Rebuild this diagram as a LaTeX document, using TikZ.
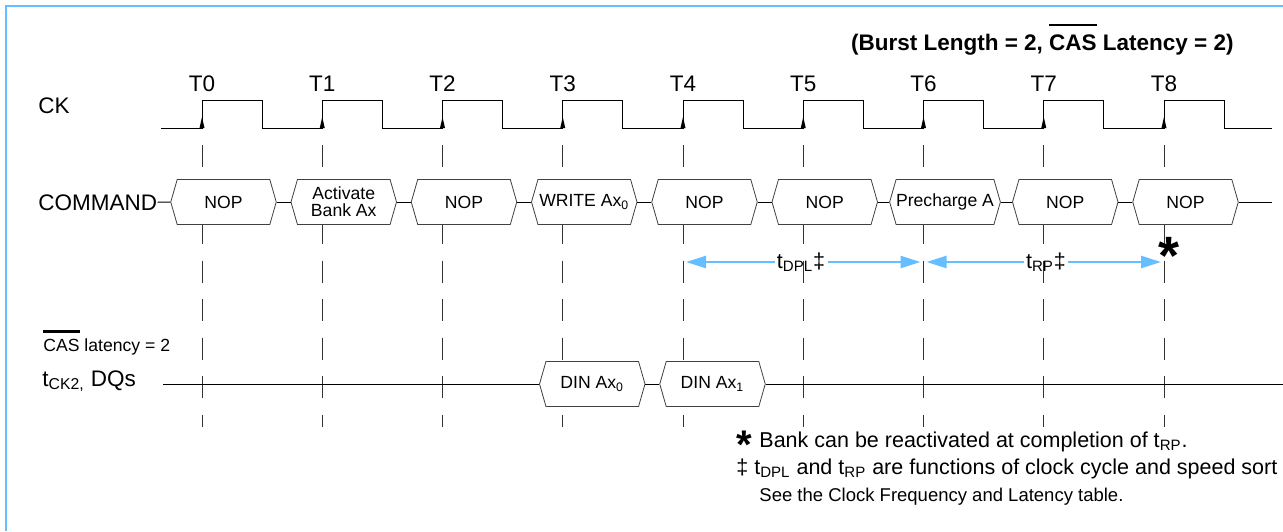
\documentclass[tikz,border=0pt]{standalone}
\usepackage{fontspec}
\setmainfont{Liberation Sans}
\usetikzlibrary{shapes.symbols,arrows.meta}
\definecolor{skyline}{RGB}{100,190,255}
\newsavebox{\barbox}
\newcommand{\barover}[1]{\sbox\barbox{#1}\rlap{\rule[1.05em]{\wd\barbox}{0.12em}}\usebox\barbox}

\begin{document}
\begin{tikzpicture}[x=0.5pt,y=-0.5pt]
	\tikzstyle{sig}=[line width=0.5pt]
	\tikzstyle{big}=[font=\fontsize{11.25}{13}\selectfont,inner sep=0pt]
	\tikzstyle{note}=[font=\fontsize{10.75}{12}\selectfont,inner sep=0pt,anchor=base west]
	\tikzstyle{cmdbox}=[draw=black!75,fill=white,line width=0.4pt,signal,signal to=west and east,signal pointer angle=148,minimum width=52.75pt,minimum height=22.5pt,inner sep=0pt,font=\fontsize{8.8}{8.4}\selectfont,align=center]
	\tikzstyle{tick}=[black!80,line width=0.5pt,dash pattern=on 11pt off 8.25pt]
	\tikzstyle{tarr}=[skyline,line width=1.2pt,-{Triangle[length=10pt,width=6pt]},shorten >=1.5pt]
	
	\useasboundingbox (0,0) rectangle (1283,531);
	\draw[skyline,line width=1pt] (6,531) -- (6,6) -- (1283,6);
	
	\node[big,font=\fontsize{11.25}{13}\selectfont\bfseries,anchor=base east] (title) at (1234,50) {(Burst Length = 2, \barover{CAS} Latency = 2)};
	
	% clock
	\node[big,anchor=base west] (ck) at (38,113) {CK};
	\draw[sig] (161,128) \foreach \i in {0,...,8} { -- ({202+\i*120.25},128) -- ++(0,-28) -- ++(60,0) -- ++(0,28)} -- (1272,128);
	\foreach \i in {0,...,8} {
		\fill ({199.5+\i*120.25},128) -- ++(2.5,-11) -- ++(2.5,11) -- cycle;
		\node[big,anchor=base] (t\i) at ({202+\i*120.25},91) {T\i};
		\draw[tick] ({202+\i*120.25},145) -- ({202+\i*120.25},427);
	}
	
	% command bus
	\node[big,anchor=base west] (cmd) at (38,210) {COMMAND};
	\foreach \lab [count=\i from 0] in {NOP,{Activate\\Bank Ax},NOP,WRITE Ax\textsubscript{0},NOP,NOP,Precharge A,NOP,NOP}
		\node[cmdbox] (c\i) at ({223.5+\i*120.25},202) {\lab};
	\coordinate (cend) at (1272,202);
	\draw[sig] (cmd.east) -- (c0.west);
	\foreach \i [evaluate=\i as \j using int(\i+1)] in {0,...,7}
		\draw[sig] (c\i.east) -- (c\j.west);
	\draw[sig] (c8.east) -- (cend);
	
	% timing
	\foreach \i in {4,6,8}
		\coordinate (g\i) at ({202+\i*120.25},262);
	\node[font=\fontsize{10.75}{12}\selectfont,inner sep=1pt] (dpl) at (801,262) {t\textsubscript{DPL}‡};
	\node[font=\fontsize{10.75}{12}\selectfont,inner sep=1pt] (rp) at (1046,262) {t\textsubscript{RP}‡};
	\draw[tarr] (dpl) -- (g4);
	\draw[tarr] (dpl) -- (g6);
	\draw[tarr] (rp) -- (g6);
	\draw[tarr] (rp) -- (g8);
	\node[font=\fontsize{27}{27}\selectfont\bfseries,inner sep=0pt,anchor=base] (star) at (1169,274) {*};
	
	% data bus
	\node[font=\fontsize{8.8}{10}\selectfont,inner sep=0pt,anchor=base west] (cas) at (43,351) {\barover{CAS} latency = 2};
	\node[big,anchor=base west] (dq) at (42,386) {t\textsubscript{CK2,} DQs};
	\coordinate (dqstart) at (163,384);
	\node[cmdbox] (d0) at ({202+3*120.25+29.5},384) {DIN Ax\textsubscript{0}};
	\node[cmdbox] (d1) at ({202+4*120.25+29.5},384) {DIN Ax\textsubscript{1}};
	\coordinate (dqend) at (1283,384);
	\draw[sig] (dqstart) -- (d0.west);
	\draw[sig] (d0.east) -- (d1.west);
	\draw[sig] (d1.east) -- (dqend);
	
	% notes
	\node[note] (note1) at (736,447) {\makebox[11.5pt][l]{\smash{\raisebox{-5.5pt}{\fontsize{20}{20}\selectfont\bfseries *}}}Bank can be reactivated at completion of t\textsubscript{RP}.};
	\node[note] (note2) at (736,474) {‡ t\textsubscript{DPL} and t\textsubscript{RP} are functions of clock cycle and speed sort};
	\node[note,font=\fontsize{9.25}{11}\selectfont] (note3) at (759,501) {See the Clock Frequency and Latency table.};
	
\end{tikzpicture}
\end{document}
